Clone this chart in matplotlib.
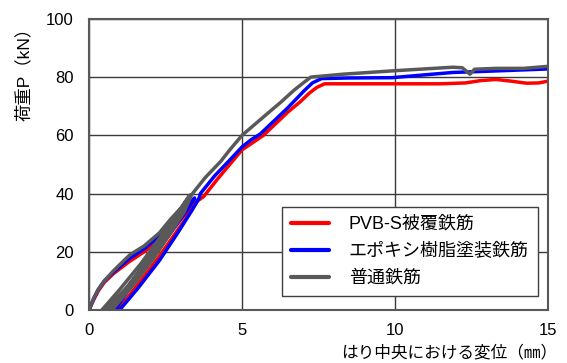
import matplotlib.pyplot as plt

plt.rcParams['font.family'] = ['Liberation Sans', 'Noto Sans CJK JP', 'DejaVu Sans']

# -----------------------------
# DATA
# -----------------------------
labels = ["PVB-S被覆鉄筋", "エポキシ樹脂塗装鉄筋", "普通鉄筋"]
colors = ["#ff0000", "#0000ff", "#595959"]

# PVB-S coated bar
red_x = [0, 0.15, 0.3, 0.5, 0.8, 1.3, 1.8, 2.3, 2.8, 3.2, 3.45,
         3.2, 2.5, 1.8, 1.2, 0.8,
         0.95, 1.5, 2.2, 2.8, 3.3, 3.55,
         3.75, 4.2, 4.6, 5.0, 5.35, 5.7, 6.1, 6.5, 6.9, 7.2, 7.45, 7.7,
         8.5, 10, 11.5, 12.3, 12.8, 13.3, 13.8, 14.3, 14.7, 15]
red_y = [0, 3.5, 6.5, 9.5, 12.5, 16.5, 20, 24, 29, 34, 38,
         34, 24.5, 15, 7, 0,
         0, 7.5, 17, 26, 33.5, 37.5,
         39, 45, 50, 55, 57.5, 60, 64, 68, 71.5, 74.5, 76.5, 77.7,
         77.7, 77.7, 77.7, 78, 78.8, 79.2, 78.6, 77.9, 78, 78.6]

# epoxy coated bar
blue_x = [0, 0.15, 0.3, 0.5, 0.8, 1.3, 1.8, 2.3, 2.8, 3.2, 3.45,
          3.25, 2.6, 1.9, 1.3, 0.85,
          1.0, 1.6, 2.3, 2.9, 3.35, 3.6,
          3.64, 4.1, 4.6, 5.0, 5.3, 5.6, 6.0, 6.5, 7.03, 7.3, 7.6,
          8.5, 9.9, 11.0, 11.9, 13.0, 14.0, 15]
blue_y = [0, 3.8, 7, 10, 13, 17.5, 21, 25.5, 30.5, 35, 38.5,
          35, 25.5, 15.5, 7, 0,
          0, 7.5, 17, 26.5, 34, 38.5,
          40, 46, 51.5, 56, 58.5, 60.5, 64.5, 69.5, 75.3, 78, 79.5,
          79.7, 79.8, 80.8, 81.6, 82, 82.4, 82.8]

# ordinary bar
gray_x = [0, 0.15, 0.3, 0.5, 0.8, 1.34, 1.8, 2.3, 2.65, 3.0, 3.3,
          3.05, 2.4, 1.7, 1.0, 0.42,
          0.55, 1.25, 1.95, 2.55, 2.95, 3.3,
          3.1, 2.55, 1.85, 1.2, 0.7,
          0.75, 1.4, 2.1, 2.7, 3.1, 3.35,
          3.42, 3.8, 4.3, 4.6, 5.0, 5.5, 6.0, 6.26, 6.7, 7.0, 7.25,
          8.3, 10, 11.9, 12.2, 12.45, 12.6, 13.3, 14.2, 15]
gray_y = [0, 4, 7, 10, 13.5, 19, 22, 26.5, 31, 35, 39.5,
          35.5, 26, 16, 7, 0,
          0, 8, 17.5, 27, 33.5, 39,
          35, 26, 16, 7, 0,
          0, 8, 17.5, 27, 33.5, 39.5,
          40.5, 45.5, 51, 55, 60, 64.5, 69, 71.3, 75.5, 78, 80,
          81, 82.2, 83.4, 83.2, 81, 82.7, 83, 83, 83.7]

series_x = [red_x, blue_x, gray_x]
series_y = [red_y, blue_y, gray_y]

# -----------------------------
# PLOT
# -----------------------------
fig = plt.figure(figsize=(5.67, 3.63), dpi=100)
ax = fig.add_axes([0.157, 0.146, 0.8095, 0.802])

for xs, ys, c, lab in zip(series_x, series_y, colors, labels):
    ax.plot(xs, ys, color=c, lw=2.5, label=lab,
            solid_capstyle="round", solid_joinstyle="round")

ax.set_xlim(0, 15)
ax.set_ylim(0, 100)
ax.set_xticks([0, 5, 10, 15])
ax.set_yticks([0, 20, 40, 60, 80, 100])
ax.tick_params(length=0, labelsize=12, colors="black")
ax.tick_params(axis="y", pad=11)
ax.tick_params(axis="x", pad=9)
ax.grid(True, color="#3a3a3a", lw=1.0)
ax.set_axisbelow(True)
for s in ax.spines.values():
    s.set_color("#595959")
    s.set_linewidth(1.5)

ax.text(0.784, -0.145, "はり中央における変位（㎜）", transform=ax.transAxes,
        ha="center", va="center", fontsize=12)
ax.text(-0.142, 0.825, "荷重P（kN）", transform=ax.transAxes, rotation=90,
        ha="center", va="center", fontsize=12.5)

leg = ax.legend(loc="lower right", bbox_to_anchor=(0.978, 0.048),
                borderaxespad=0, fontsize=13, fancybox=False,
                edgecolor="#404040", framealpha=1, handlelength=2.1,
                handletextpad=1.1, labelspacing=0.55, borderpad=0.5)
leg.get_frame().set_linewidth(1.0)
for h in leg.get_lines():
    h.set_linewidth(3)

fig.savefig("out.png", dpi=100)
